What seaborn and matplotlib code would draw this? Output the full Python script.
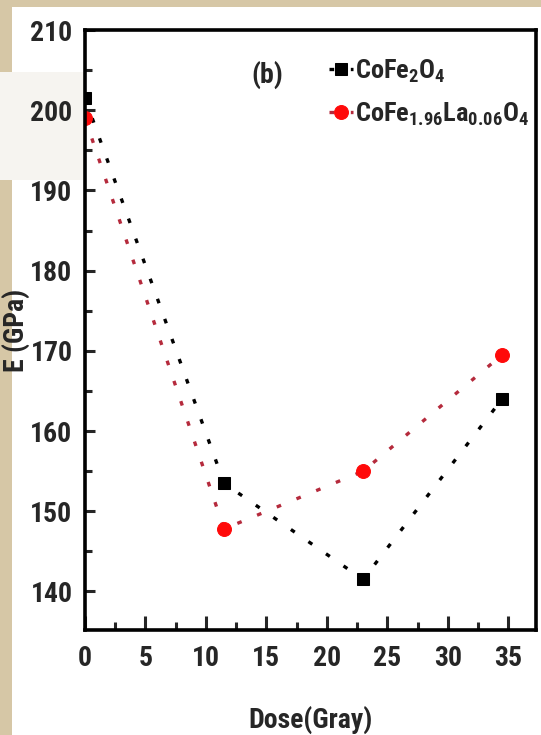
import matplotlib
matplotlib.use("Agg")
import matplotlib.pyplot as plt
from matplotlib import font_manager
import seaborn as sns
import pandas as pd
from matplotlib.patches import Rectangle
from matplotlib.ticker import MultipleLocator

# 数据
dose = [0, 11.5, 23, 34.5]
e_cofe2o4 = [201.5, 153.5, 141.5, 164.0]
e_cofe_la = [199.0, 147.8, 155.0, 169.5]
labels = ["CoFe$\\mathregular{_2}$O$\\mathregular{_4}$",
          "CoFe$\\mathregular{_{1.96}}$La$\\mathregular{_{0.06}}$O$\\mathregular{_4}$"]
x_ticks = [0, 5, 10, 15, 20, 25, 30, 35]
y_ticks = [140, 150, 160, 170, 180, 190, 200, 210]


def pick_narrow_font():
    # 找一个窄体的粗体字体
    narrow_words = ("condensed", "semi-condensed", "extra-condensed", "ultra-condensed")
    found = []
    for f in font_manager.fontManager.ttflist:
        st = str(f.stretch).lower()
        is_narrow = ("Narrow" in f.name or "Cond" in f.name or st in narrow_words
                     or (st.isdigit() and int(st) < 500))
        w = f.weight if isinstance(f.weight, int) else (700 if "bold" in str(f.weight) else 400)
        if is_narrow and w >= 600 and "Mono" not in f.name and "Serif" not in f.name:
            found.append(f)
    order = ["Liberation Sans Narrow", "Arial Narrow", "Roboto Condensed", "Open Sans Condensed",
             "Noto Sans", "DejaVu Sans"]
    found.sort(key=lambda f: min([i for i, o in enumerate(order) if f.name.startswith(o)] + [99]))
    return found[0] if found else None


sns.set_style("ticks")
narrow = pick_narrow_font()
if narrow is not None:
    plt.rcParams["font.family"] = [narrow.name, "Liberation Sans", "DejaVu Sans"]
    plt.rcParams["font.stretch"] = narrow.stretch
    fs = 20
else:
    plt.rcParams["font.family"] = ["Liberation Sans", "DejaVu Sans"]
    fs = 17
plt.rcParams["font.weight"] = "bold"
plt.rcParams["mathtext.default"] = "regular"

df = pd.DataFrame({"dose": dose, "a": e_cofe2o4, "b": e_cofe_la})

fig = plt.figure(figsize=(5.41, 7.35), dpi=100)
fig.patch.set_facecolor("#d6c7a6")
# 白色底板
fig.patches.append(Rectangle((12 / 541, 0), 1, 1 - 7 / 735, transform=fig.transFigure,
                             facecolor="white", edgecolor="none", zorder=-10))
fig.patches.append(Rectangle((0, 1 - 180 / 735), 155 / 541, 108 / 735, transform=fig.transFigure,
                             facecolor="#f6f4f0", edgecolor="none", zorder=-10))

ax = fig.add_axes([85 / 541, 1 - 630 / 735, 451 / 541, 600 / 735])
ax.set_zorder(5)
ax.set_facecolor("white")

dots = (0, (1.4, 5.0))
sns.lineplot(data=df, x="dose", y="a", ax=ax, color="black", marker="s", markersize=9,
             markerfacecolor="black", markeredgecolor="black", linewidth=2.4,
             linestyle=dots, label=labels[0])
sns.lineplot(data=df, x="dose", y="b", ax=ax, color="#b52a3c", marker="o", markersize=10,
             markerfacecolor="#ff0a0a", markeredgecolor="#ff0a0a", linewidth=2.4,
             linestyle=dots, label=labels[1])

ax.set_xlim(0, 37.3)
ax.set_ylim(135.2, 210)
ax.set_xticks(x_ticks)
ax.set_yticks(y_ticks)
ax.xaxis.set_minor_locator(MultipleLocator(2.5))
ax.yaxis.set_minor_locator(MultipleLocator(5))
ax.tick_params(axis="x", which="major", direction="in", length=10, width=2.2, pad=11, labelsize=fs)
ax.tick_params(axis="x", which="minor", direction="in", length=6, width=2.2)
ax.tick_params(axis="y", which="major", direction="in", length=7, width=2.2, pad=9, labelsize=fs)
ax.tick_params(axis="y", which="minor", direction="in", length=5, width=2.2)
for s in ax.spines.values():
    s.set_visible(True)
    s.set_linewidth(2.6)
    s.set_color("black")

ax.set_xlabel("Dose(Gray)", fontsize=fs, fontweight="bold", labelpad=24)
ax.set_ylabel("E (GPa)", fontsize=fs, fontweight="bold")
ax.yaxis.set_label_coords(-0.122, 0.5)

ax.text(0.405, 0.925, "(b)", transform=ax.transAxes, fontsize=fs, fontweight="bold",
        ha="center", va="center")
ax.legend(loc="upper left", bbox_to_anchor=(0.5, 0.985), frameon=False, fontsize=fs - 1,
          handlelength=0.9, handletextpad=0.1, labelspacing=0.6, borderpad=0.2, numpoints=1)

fig.savefig("out.png", dpi=100)
